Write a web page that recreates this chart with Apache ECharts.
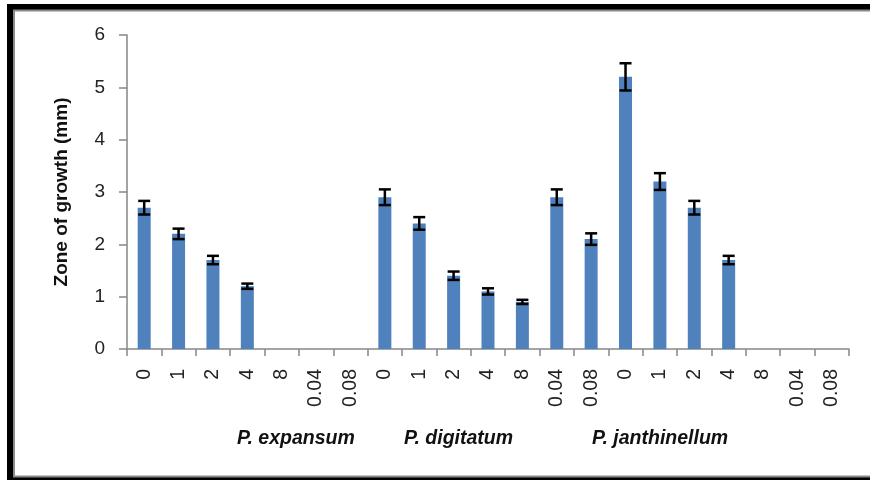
<!DOCTYPE html>
<html>
<head>
<meta charset="utf-8">
<script src="https://cdn.jsdelivr.net/npm/echarts@6/dist/echarts.min.js"></script>
<style>
html,body{margin:0;padding:0;background:#fff;}
#chart{width:870px;height:480px;}
</style>
</head>
<body>
<div id="chart"></div>
<script>
var categories = ['0','1','2','4','8','0.04','0.08','0','1','2','4','8','0.04','0.08','0','1','2','4','8','0.04','0.08'];
var values = [2.7,2.2,1.7,1.2,0,0,0, 2.9,2.4,1.4,1.1,0.9,2.9,2.1, 5.2,3.2,2.7,1.7,0,0,0];
var errors = [0.13,0.1,0.08,0.05,0,0,0, 0.15,0.12,0.08,0.06,0.04,0.15,0.11, 0.26,0.16,0.13,0.08,0,0,0];
var groupNames = ['P. expansum','P. digitatum','P. janthinellum'];
var yTicks = {min:0, max:6, interval:1};

var errData = values.map(function(v,i){ return [i, v - errors[i], v + errors[i], v]; });

var chart = echarts.init(document.getElementById('chart'));
var groupX = [237, 404, 592];
var graphics = [
  {type:'rect', shape:{x:10, y:7, width:900, height:473}, style:{fill:'none', stroke:'#000', lineWidth:6}, z:100},
  {type:'rect', shape:{x:14, y:10.5, width:900, height:466}, style:{fill:'none', stroke:'#8a8a8a', lineWidth:2}, z:100}
];
groupNames.forEach(function(n,i){
  graphics.push({type:'text', left:groupX[i], top:429, style:{text:n, font:'italic bold 19.5px "Liberation Sans"', fill:'#111'}});
});

chart.setOption({
  animation:false,
  backgroundColor:'#fff',
  grid:{left:127, right:21, top:35, bottom:131},
  xAxis:{
    type:'category', data:categories, boundaryGap:true,
    axisLine:{show:true, lineStyle:{color:'#868686', width:1.5}},
    axisTick:{show:true, interval:0, length:7, lineStyle:{color:'#868686', width:1.5}},
    axisLabel:{interval:0, rotate:90, margin:20, fontSize:19.5, fontFamily:'Liberation Sans', color:'#222'}
  },
  yAxis:{
    type:'value', min:yTicks.min, max:yTicks.max, interval:yTicks.interval,
    name:'Zone of growth (mm)', nameLocation:'middle', nameGap:56,
    nameTextStyle:{fontSize:19, fontWeight:'bold', fontFamily:'Liberation Sans', color:'#111'},
    axisLine:{show:true, lineStyle:{color:'#868686', width:1.5}},
    axisTick:{show:true, length:8, lineStyle:{color:'#868686', width:1.5}},
    axisLabel:{margin:22, fontSize:19, fontFamily:'Liberation Sans', color:'#222'},
    splitLine:{show:false}
  },
  series:[
    {type:'bar', data:values, barWidth:13, itemStyle:{color:'#4F81BD'}},
    {type:'custom', data:errData, z:10,
     renderItem:function(params, api){
       if (api.value(3) === 0) return null;
       var x = api.value(0);
       var lo = api.coord([x, api.value(1)]);
       var hi = api.coord([x, api.value(2)]);
       var hw = 6;
       var st = {stroke:'#000', lineWidth:2.5};
       return {type:'group', children:[
         {type:'line', shape:{x1:lo[0], y1:lo[1], x2:hi[0], y2:hi[1]}, style:st},
         {type:'line', shape:{x1:lo[0]-hw, y1:lo[1], x2:lo[0]+hw, y2:lo[1]}, style:st},
         {type:'line', shape:{x1:hi[0]-hw, y1:hi[1], x2:hi[0]+hw, y2:hi[1]}, style:st}
       ]};
     }
    }
  ],
  graphic:graphics
});
</script>
</body>
</html>
